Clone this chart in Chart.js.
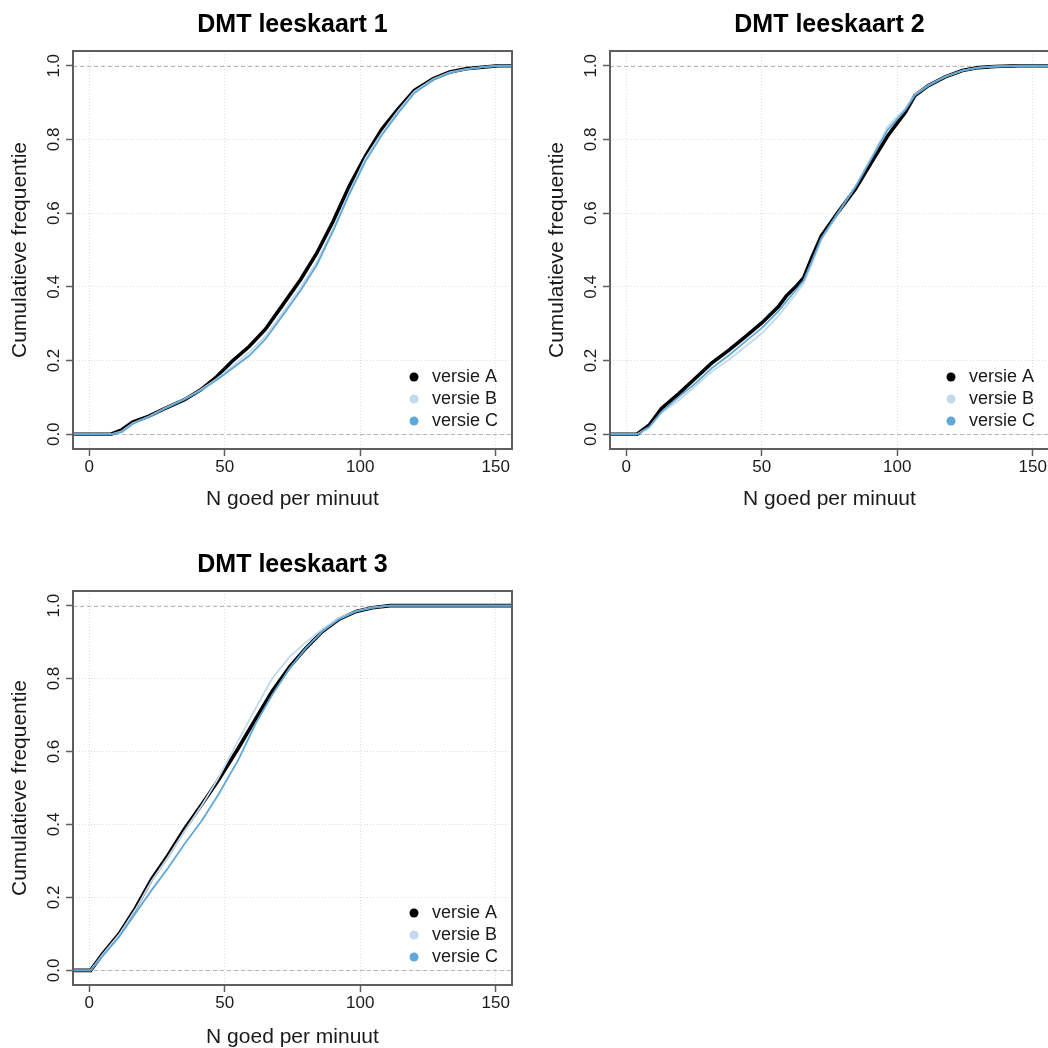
<!DOCTYPE html>
<html>
<head>
<meta charset="utf-8">
<script src="https://cdn.jsdelivr.net/npm/chart.js@4.4.1/dist/chart.umd.min.js"></script>
<style>
html,body{margin:0;padding:0;overflow:hidden;background:#fff;}
#page{position:relative;width:1048px;height:1048px;overflow:hidden;}
canvas{position:absolute;}
</style>
</head>
<body>
<div id="page">
<canvas id="c1" width="524" height="520" style="left:0px;top:0px"></canvas>
<canvas id="c2" width="524" height="520" style="left:537px;top:0px"></canvas>
<canvas id="c3" width="524" height="520" style="left:0px;top:540px"></canvas>
</div>
<script>
const FONT="'Liberation Sans', Arial, sans-serif";
const versions=["versie A","versie B","versie C"];
const colors=["#000000","#c3d9ee","#5fa8d8"];
const xTicks=[0,50,100,150];
const yTicks=[0,0.2,0.4,0.6,0.8,1];

// leeskaart 1
const x1=[-10,8,12,16,22,28,35,41,47,53,59,65,71,78,84,90,96,102,108,114,120,127,133,139,145,151,160];
const a1=[0,0,0.012,0.033,0.049,0.07,0.093,0.12,0.156,0.2,0.238,0.285,0.347,0.42,0.492,0.578,0.674,0.756,0.828,0.883,0.933,0.965,0.983,0.992,0.996,1,1];
const b1=[0,0,0.008,0.03,0.048,0.071,0.095,0.12,0.15,0.186,0.222,0.266,0.326,0.398,0.468,0.558,0.658,0.75,0.818,0.878,0.93,0.964,0.982,0.991,0.996,1,1];
const c1=[0,0,0.006,0.028,0.047,0.07,0.094,0.118,0.147,0.18,0.213,0.258,0.318,0.39,0.46,0.552,0.652,0.742,0.812,0.872,0.926,0.962,0.98,0.99,0.996,1,1];

// leeskaart 2
const x2=[-10,4,8.5,13,19.5,25.5,31.5,38,44,50,56,59,62.5,65.5,68.5,72,78,84.5,90.5,96.5,103,106.5,111.5,117.5,124,130,136,145,160];
const a2=[0,0,0.025,0.07,0.111,0.152,0.193,0.229,0.265,0.302,0.345,0.375,0.4,0.425,0.48,0.538,0.601,0.665,0.738,0.81,0.874,0.919,0.946,0.969,0.987,0.995,0.998,1,1];
const b2=[0,0,0.018,0.058,0.093,0.131,0.17,0.203,0.238,0.274,0.32,0.348,0.38,0.41,0.462,0.528,0.598,0.672,0.752,0.835,0.884,0.922,0.947,0.97,0.987,0.995,0.998,1,1];
const c2=[0,0,0.02,0.061,0.102,0.138,0.179,0.215,0.252,0.288,0.333,0.36,0.39,0.418,0.47,0.532,0.6,0.67,0.748,0.826,0.88,0.92,0.946,0.969,0.987,0.995,0.998,1,1];

// leeskaart 3
const x3=[-10,0.5,5,11,17,23,29,35,41.5,47.5,55,61.5,67.5,74,80,86,92,98.5,104.5,111,160];
const a3=[0,0,0.046,0.1,0.17,0.25,0.315,0.386,0.455,0.52,0.609,0.691,0.765,0.833,0.884,0.929,0.962,0.984,0.994,1,1];
const b3=[0,0,0.044,0.098,0.166,0.245,0.31,0.38,0.452,0.525,0.63,0.72,0.8,0.86,0.9,0.935,0.965,0.985,0.995,1,1];
const c3=[0,0,0.04,0.092,0.156,0.22,0.28,0.345,0.41,0.48,0.577,0.678,0.755,0.829,0.884,0.929,0.962,0.984,0.994,1,1];

const extras={
    id:"extras",
    beforeDatasetsDraw(chart){
        const {ctx,chartArea:a,scales:{y}}=chart;
        ctx.save();
        ctx.strokeStyle="#b5b5b5";
        ctx.lineWidth=1;
        ctx.setLineDash([4,3]);
        [0,1].forEach(v=>{
            const py=Math.round(y.getPixelForValue(v))+0.5;
            ctx.beginPath();
            ctx.moveTo(a.left,py);
            ctx.lineTo(a.right,py);
            ctx.stroke();
        });
        ctx.restore();
    },
    afterDraw(chart){
        const {ctx,chartArea:a,scales:{y}}=chart;
        ctx.save();
        ctx.strokeStyle="#5e5e5e";
        ctx.lineWidth=2;
        ctx.strokeRect(a.left,a.top,a.right-a.left,a.bottom-a.top);
        // y tick labels, written along the axis like R does
        ctx.fillStyle="#1a1a1a";
        ctx.font="17px "+FONT;
        ctx.textAlign="center";
        ctx.textBaseline="alphabetic";
        yTicks.forEach(v=>{
            ctx.save();
            ctx.translate(a.left-14,y.getPixelForValue(v));
            ctx.rotate(-Math.PI/2);
            ctx.fillText(v.toFixed(1),0,0);
            ctx.restore();
        });
        // legend in the lower right corner
        ctx.font="18px "+FONT;
        ctx.textAlign="left";
        ctx.textBaseline="middle";
        chart.data.datasets.forEach((d,i)=>{
            const py=a.bottom-72+22*i;
            ctx.fillStyle=d.borderColor;
            ctx.beginPath();
            ctx.arc(a.right-98,py,4.5,0,Math.PI*2);
            ctx.fill();
            ctx.fillStyle="#1a1a1a";
            ctx.fillText(d.label,a.right-80,py);
        });
        ctx.restore();
    }
};

function makeChart(id,title,xs,series,areaBottom,xLabelY){
    const cv=document.getElementById(id);
    const H=cv.height;
    return new Chart(cv,{
        type:"line",
        data:{
            datasets:series.map((s,i)=>({
                label:versions[i],
                data:xs.map((x,j)=>({x:x,y:s[j]})),
                borderColor:colors[i],
                backgroundColor:colors[i],
                borderWidth:i===0?3.6:1.8,
                pointRadius:0,
                tension:0,
                fill:false,
                order:3-i
            }))
        },
        options:{
            responsive:false,
            animation:false,
            layout:{padding:{left:0,right:cv.width-512,top:0,bottom:0}},
            plugins:{
                legend:{display:false},
                tooltip:{enabled:false},
                title:{
                    display:true,
                    text:title,
                    fullSize:false,
                    color:"#000",
                    font:{family:FONT,size:25,weight:"bold"},
                    padding:{top:10,bottom:11}
                }
            },
            scales:{
                x:{
                    type:"linear",
                    min:-6,
                    max:156,
                    afterBuildTicks:s=>{s.ticks=xTicks.map(v=>({value:v}));},
                    afterFit:s=>{s.height=H-areaBottom;},
                    grid:{color:"#dcdcdc",tickColor:"#5e5e5e",tickLength:7,tickWidth:1.5},
                    border:{display:false,dash:[1,2]},
                    ticks:{color:"#1a1a1a",font:{family:FONT,size:17},padding:1,maxRotation:0},
                    title:{display:true,text:"N goed per minuut",color:"#1a1a1a",
                        font:{family:FONT,size:21},padding:{top:0,bottom:H-12.6-xLabelY}}
                },
                y:{
                    type:"linear",
                    min:-0.04,
                    max:1.04,
                    afterBuildTicks:s=>{s.ticks=yTicks.map(v=>({value:v}));},
                    afterFit:s=>{s.width=73;},
                    grid:{color:"#dcdcdc",tickColor:"#5e5e5e",tickLength:7,tickWidth:1.5},
                    border:{display:false,dash:[1,2]},
                    ticks:{display:false},
                    title:{display:true,text:"Cumulatieve frequentie",color:"#1a1a1a",
                        font:{family:FONT,size:21},padding:{top:8,bottom:0}}
                }
            }
        },
        plugins:[extras]
    });
}

makeChart("c1","DMT leeskaart 1",x1,[a1,b1,c1],449,499);
makeChart("c2","DMT leeskaart 2",x2,[a2,b2,c2],449,499);
makeChart("c3","DMT leeskaart 3",x3,[a3,b3,c3],445,497);
</script>
</body>
</html>
